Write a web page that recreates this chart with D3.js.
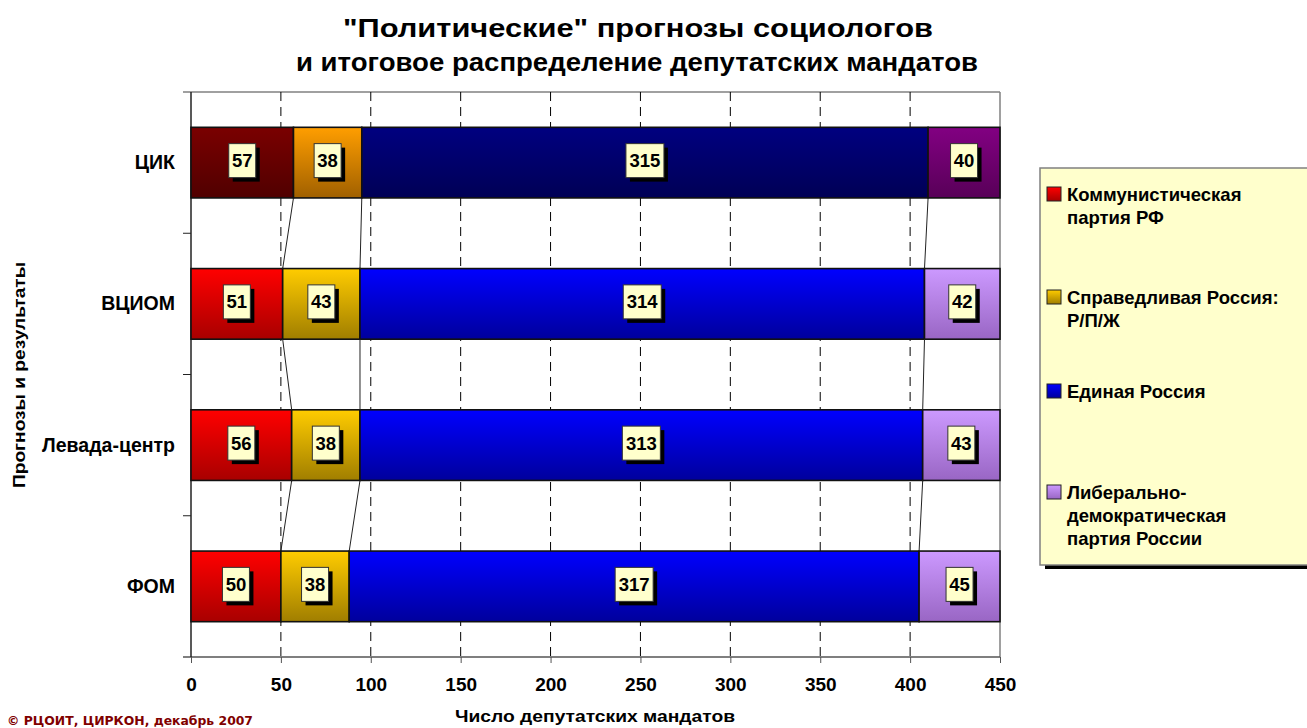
<!DOCTYPE html>
<html>
<head>
<meta charset="utf-8">
<script src="https://cdn.jsdelivr.net/npm/d3@7"></script>
<style>
  body { margin: 0; background: #ffffff; }
  text { font-family: "Liberation Sans", Arial, sans-serif; font-weight: bold; }
</style>
</head>
<body>
<div id="chart"></div>
<script>
// data
const categories = ["ЦИК", "ВЦИОМ", "Левада-центр", "ФОМ"];
const seriesNames = ["Коммунистическая партия РФ", "Справедливая Россия: Р/П/Ж", "Единая Россия", "Либерально-демократическая партия России"];
const kprf = [57, 51, 56, 50];
const sr = [38, 43, 38, 38];
const er = [315, 314, 313, 317];
const ldpr = [40, 42, 43, 45];
const xTicks = [0, 50, 100, 150, 200, 250, 300, 350, 400, 450];
const legendLines = [
  ["Коммунистическая", "партия РФ"],
  ["Справедливая Россия:", "Р/П/Ж"],
  ["Единая Россия"],
  ["Либерально-", "демократическая", "партия России"]
];

// colours: [top, bottom] of the vertical gradient
const seriesColors = [["#ff0000", "#a80000"], ["#ffcc00", "#a07e00"], ["#0000ff", "#00009c"], ["#cc99ff", "#9966c4"]];
const cikColors = [["#7a0000", "#500000"], ["#ff9e00", "#a06000"], ["#000080", "#000055"], ["#820082", "#580058"]];

const width = 1307, height = 728;
const margin = { top: 92, left: 191, right: 1000, bottom: 657 };

const svg = d3.select("#chart").append("svg")
  .attr("width", width)
  .attr("height", height);

const defs = svg.append("defs");
function gradient(id, c) {
  const g = defs.append("linearGradient").attr("id", id)
    .attr("x1", 0).attr("y1", 0).attr("x2", 0).attr("y2", 1);
  g.append("stop").attr("offset", "0%").attr("stop-color", c[0]);
  g.append("stop").attr("offset", "100%").attr("stop-color", c[1]);
}
seriesColors.forEach((c, i) => gradient("g" + i, c));
cikColors.forEach((c, i) => gradient("c" + i, c));

// scales
const x = d3.scaleLinear().domain([0, 450]).range([margin.left, margin.right]);
const y = d3.scaleBand().domain(categories)
  .range([margin.top, margin.bottom])
  .paddingInner(0.5).paddingOuter(0.25);

// stacked data
const table = categories.map((c, i) => ({ cat: c, s0: kprf[i], s1: sr[i], s2: er[i], s3: ldpr[i] }));
const stack = d3.stack().keys(["s0", "s1", "s2", "s3"])(table);

// plot frame (top / right grey)
svg.append("line")
  .attr("x1", margin.left - 8).attr("x2", margin.right)
  .attr("y1", margin.top).attr("y2", margin.top)
  .attr("stroke", "#808080").attr("stroke-width", 1.5);
svg.append("line")
  .attr("x1", margin.right).attr("x2", margin.right)
  .attr("y1", margin.top).attr("y2", margin.bottom)
  .attr("stroke", "#808080").attr("stroke-width", 1.5);

// dashed grid
svg.append("g")
  .selectAll("line")
  .data(xTicks.filter(d => d > 0 && d < 450))
  .join("line")
  .attr("x1", d => x(d)).attr("x2", d => x(d))
  .attr("y1", margin.top).attr("y2", margin.bottom)
  .attr("stroke", "#000")
  .attr("stroke-dasharray", "9,6")
  .attr("stroke-width", 1);

// x axis
const xAxis = svg.append("g")
  .attr("transform", `translate(0,${margin.bottom})`)
  .call(d3.axisBottom(x).tickValues(xTicks).tickSize(6).tickPadding(15));
xAxis.select(".domain").attr("stroke", "#555").attr("stroke-width", 1.5).attr("d", `M${margin.left - 8},0H${margin.right}`);
xAxis.selectAll(".tick line").attr("stroke", "#555");
xAxis.selectAll("text")
  .style("font-family", "Liberation Sans, Arial")
  .style("font-weight", "bold")
  .style("font-size", "19px")
  .attr("fill", "#000");

// y axis: ticks at band boundaries
const yBounds = d3.range(categories.length + 1).map(i => margin.top + i * y.step());
svg.append("line")
  .attr("x1", margin.left).attr("x2", margin.left)
  .attr("y1", margin.top).attr("y2", margin.bottom)
  .attr("stroke", "#222").attr("stroke-width", 1.5);
svg.append("g").selectAll("line")
  .data(yBounds.slice(1, -1))
  .join("line")
  .attr("x1", margin.left - 8).attr("x2", margin.left)
  .attr("y1", d => d).attr("y2", d => d)
  .attr("stroke", "#222");

// category labels
svg.append("g").selectAll("text")
  .data(categories)
  .join("text")
  .attr("x", margin.left - 16)
  .attr("y", d => y(d) + y.bandwidth() / 2 + 6.5)
  .attr("text-anchor", "end")
  .style("font-size", "19.5px")
  .text(d => d);

// bars
stack.forEach((layer, si) => {
  svg.append("g").selectAll("rect")
    .data(layer)
    .join("rect")
    .attr("x", d => x(d[0]))
    .attr("y", d => y(d.data.cat))
    .attr("width", d => x(d[1]) - x(d[0]))
    .attr("height", y.bandwidth())
    .attr("fill", (d, i) => i === 0 ? `url(#c${si})` : `url(#g${si})`)
    .attr("stroke", "#111")
    .attr("stroke-width", 1.6);
});

// series lines between bars
stack.slice(0, 3).forEach(layer => {
  for (let i = 0; i < layer.length - 1; i++) {
    svg.append("line")
      .attr("x1", x(layer[i][1])).attr("y1", y(layer[i].data.cat) + y.bandwidth())
      .attr("x2", x(layer[i + 1][1])).attr("y2", y(layer[i + 1].data.cat))
      .attr("stroke", "#222").attr("stroke-width", 1);
  }
});

// value labels
stack.forEach(layer => {
  layer.forEach(d => {
    const v = d[1] - d[0];
    const cx = x((d[0] + d[1]) / 2);
    const cy = y(d.data.cat) + y.bandwidth() / 2 - 2;
    const w = String(v).length > 2 ? 38 : 27, h = 34;
    svg.append("rect")
      .attr("x", cx - w / 2 + 4).attr("y", cy - h / 2 + 4)
      .attr("width", w).attr("height", h)
      .attr("fill", "#000");
    svg.append("rect")
      .attr("x", cx - w / 2).attr("y", cy - h / 2)
      .attr("width", w).attr("height", h)
      .attr("fill", "#ffffcc")
      .attr("stroke", "#333").attr("stroke-width", 1);
    svg.append("text")
      .attr("x", cx).attr("y", cy + 6.5)
      .attr("text-anchor", "middle")
      .style("font-size", "18.5px")
      .text(v);
  });
});

// title
svg.append("text")
  .attr("x", 638).attr("y", 37)
  .attr("text-anchor", "middle")
  .style("font-size", "25px")
  .attr("textLength", 590).attr("lengthAdjust", "spacingAndGlyphs")
  .text("\"Политические\" прогнозы социологов");
svg.append("text")
  .attr("x", 637).attr("y", 71)
  .attr("text-anchor", "middle")
  .style("font-size", "25px")
  .attr("textLength", 682).attr("lengthAdjust", "spacingAndGlyphs")
  .text("и итоговое распределение депутатских мандатов");

// axis titles
svg.append("text")
  .attr("transform", "rotate(-90)")
  .attr("x", -375).attr("y", 25)
  .attr("text-anchor", "middle")
  .style("font-size", "16px")
  .attr("textLength", 226).attr("lengthAdjust", "spacingAndGlyphs")
  .text("Прогнозы и результаты");
svg.append("text")
  .attr("x", 595).attr("y", 722)
  .attr("text-anchor", "middle")
  .style("font-size", "16px")
  .attr("textLength", 280).attr("lengthAdjust", "spacingAndGlyphs")
  .text("Число депутатских мандатов");

// footer
svg.append("text")
  .attr("x", 7).attr("y", 725)
  .style("font-family", "DejaVu Sans, Verdana")
  .style("font-size", "12.4px")
  .attr("fill", "#800000")
  .text("© РЦОИТ, ЦИРКОН, декабрь 2007");

// legend
const legend = svg.append("g").attr("transform", "translate(1040,168)");
legend.append("rect")
  .attr("x", 5).attr("y", 4).attr("width", 280).attr("height", 397)
  .attr("fill", "#000");
legend.append("rect")
  .attr("x", 0).attr("y", 0).attr("width", 280).attr("height", 397)
  .attr("fill", "#ffffcc")
  .attr("stroke", "#808080").attr("stroke-width", 1.5);

const entryY = [33, 136, 230, 331];
legendLines.forEach((lines, i) => {
  const gy = entryY[i];
  legend.append("rect")
    .attr("x", 7).attr("y", gy - 14)
    .attr("width", 14).attr("height", 14)
    .attr("fill", `url(#g${i})`)
    .attr("stroke", "#222").attr("stroke-width", 1);
  lines.forEach((ln, j) => {
    legend.append("text")
      .attr("x", 27).attr("y", gy + j * 23)
      .style("font-size", "18.5px")
      .text(ln);
  });
});
</script>
</body>
</html>
